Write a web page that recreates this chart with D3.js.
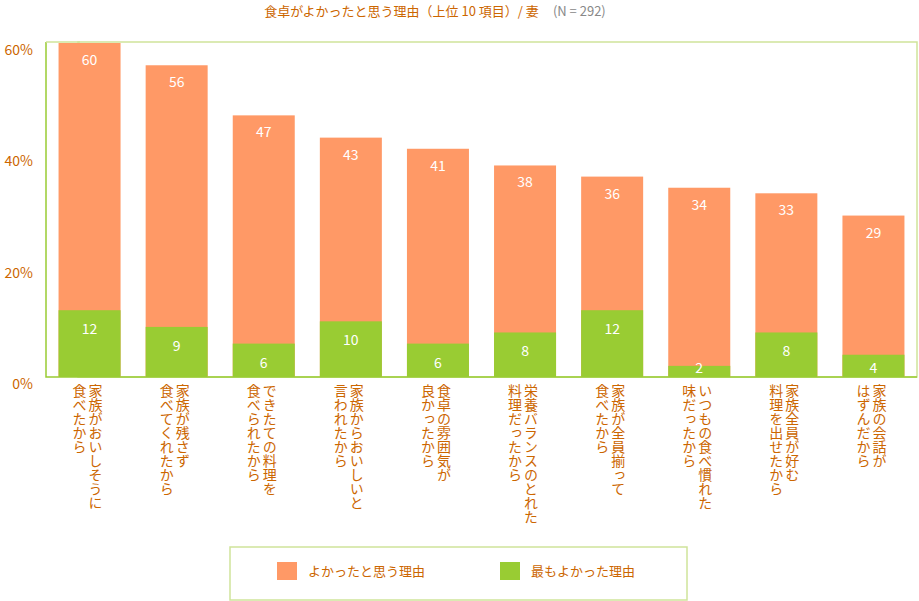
<!DOCTYPE html>
<html><head><meta charset="utf-8">
<script src="https://cdn.jsdelivr.net/npm/d3@7"></script>
<style>body{margin:0;background:#fff}text{font-family:"Noto Sans CJK JP","Noto Sans",sans-serif}</style>
</head><body>
<script>
const categories = [
  ["家族がおいしそうに", "食べたから"],
  ["家族が残さず", "食べてくれたから"],
  ["できたての料理を", "食べられたから"],
  ["家族からおいしいと", "言われたから"],
  ["食卓の雰囲気が", "良かったから"],
  ["栄養バランスのとれた", "料理だったから"],
  ["家族が全員揃って", "食べたから"],
  ["いつもの食べ慣れた", "味だったから"],
  ["家族全員が好む", "料理を出せたから"],
  ["家族の会話が", "はずんだから"]
];
const goodReason = [60, 56, 47, 43, 41, 38, 36, 34, 33, 29];
const bestReason = [12, 9, 6, 10, 6, 8, 12, 2, 8, 4];
const yTicks = [0, 20, 40, 60];

const W = 919, H = 601;
const m = {left: 46, right: 2, top: 42, bottom: 377};
const txt = "#cc6600";
const svg = d3.select("body").append("svg").attr("width", W).attr("height", H);

const x = d3.scaleBand().domain(d3.range(categories.length)).range([m.left, W - m.right]);
const y = d3.scaleLinear().domain([0, 60]).range([m.bottom, 43]);
const bw = 62;

svg.append("text").attr("x", 435).attr("y", 16).attr("text-anchor", "middle")
  .attr("font-size", 13).attr("fill", txt)
  .text("食卓がよかったと思う理由（上位 10 項目）/ 妻")
  .append("tspan").attr("fill", "#888").attr("dx", 14).text("(N = 292)");

// frame
svg.append("rect").attr("x", m.left + 32).attr("y", m.top).attr("width", W - m.right - m.left - 32).attr("height", m.bottom - m.top)
  .attr("fill", "none").attr("stroke", "#cfe49a").attr("stroke-width", 1.5);
svg.append("path").attr("d", `M${m.left},${m.top}V${m.bottom}H${W - m.right}`)
  .attr("fill", "none").attr("stroke", "#99cc33").attr("stroke-width", 1.5);
svg.append("line").attr("x1", m.left).attr("x2", m.left + 34).attr("y1", m.top).attr("y2", m.top)
  .attr("stroke", "#cfe49a").attr("stroke-width", 1.5);

svg.selectAll(".yt").data(yTicks).enter().append("text")
  .attr("x", 33).attr("y", d => y(d) + 12).attr("text-anchor", "end")
  .attr("font-size", 14).attr("fill", txt).text(d => d + "%");

const g = svg.selectAll(".bar").data(categories).enter().append("g");
const cx = i => x(i) + x.bandwidth() / 2;

g.append("rect").attr("x", (d, i) => cx(i) - bw / 2).attr("width", bw)
  .attr("y", (d, i) => y(goodReason[i])).attr("height", (d, i) => y(0) - y(goodReason[i]))
  .attr("fill", "#ff9966");
g.append("rect").attr("x", (d, i) => cx(i) - bw / 2).attr("width", bw)
  .attr("y", (d, i) => y(bestReason[i])).attr("height", (d, i) => y(0) - y(bestReason[i]))
  .attr("fill", "#99cc33");
g.append("text").attr("x", (d, i) => cx(i)).attr("y", (d, i) => y(goodReason[i]) + 22)
  .attr("text-anchor", "middle").attr("font-size", 14).attr("fill", "#fff").text((d, i) => goodReason[i]);
g.append("text").attr("x", (d, i) => cx(i)).attr("y", (d, i) => Math.min(y(bestReason[i]) + 24, y(0) - 4))
  .attr("text-anchor", "middle").attr("font-size", 14).attr("fill", "#fff").text((d, i) => bestReason[i]);

g.each(function(d, i) {
  d.forEach((line, j) => {
    d3.select(this).append("text")
      .attr("x", cx(i) + 6 - j * 16).attr("y", 384)
      .attr("style", "writing-mode:vertical-rl;glyph-orientation-vertical:0")
      .attr("font-size", 14).attr("fill", txt).text(line);
  });
});

// legend
const lg = svg.append("g");
lg.append("rect").attr("x", 230).attr("y", 547).attr("width", 457).attr("height", 53)
  .attr("fill", "none").attr("stroke", "#cfe49a").attr("stroke-width", 1.5);
[["よかったと思う理由", "#ff9966", 277], ["最もよかった理由", "#99cc33", 500]].forEach(([t, c, lx]) => {
  lg.append("rect").attr("x", lx).attr("y", 562).attr("width", 20).attr("height", 18).attr("fill", c);
  lg.append("text").attr("x", lx + 31).attr("y", 576).attr("font-size", 13).attr("fill", txt).text(t);
});
</script>
</body></html>
